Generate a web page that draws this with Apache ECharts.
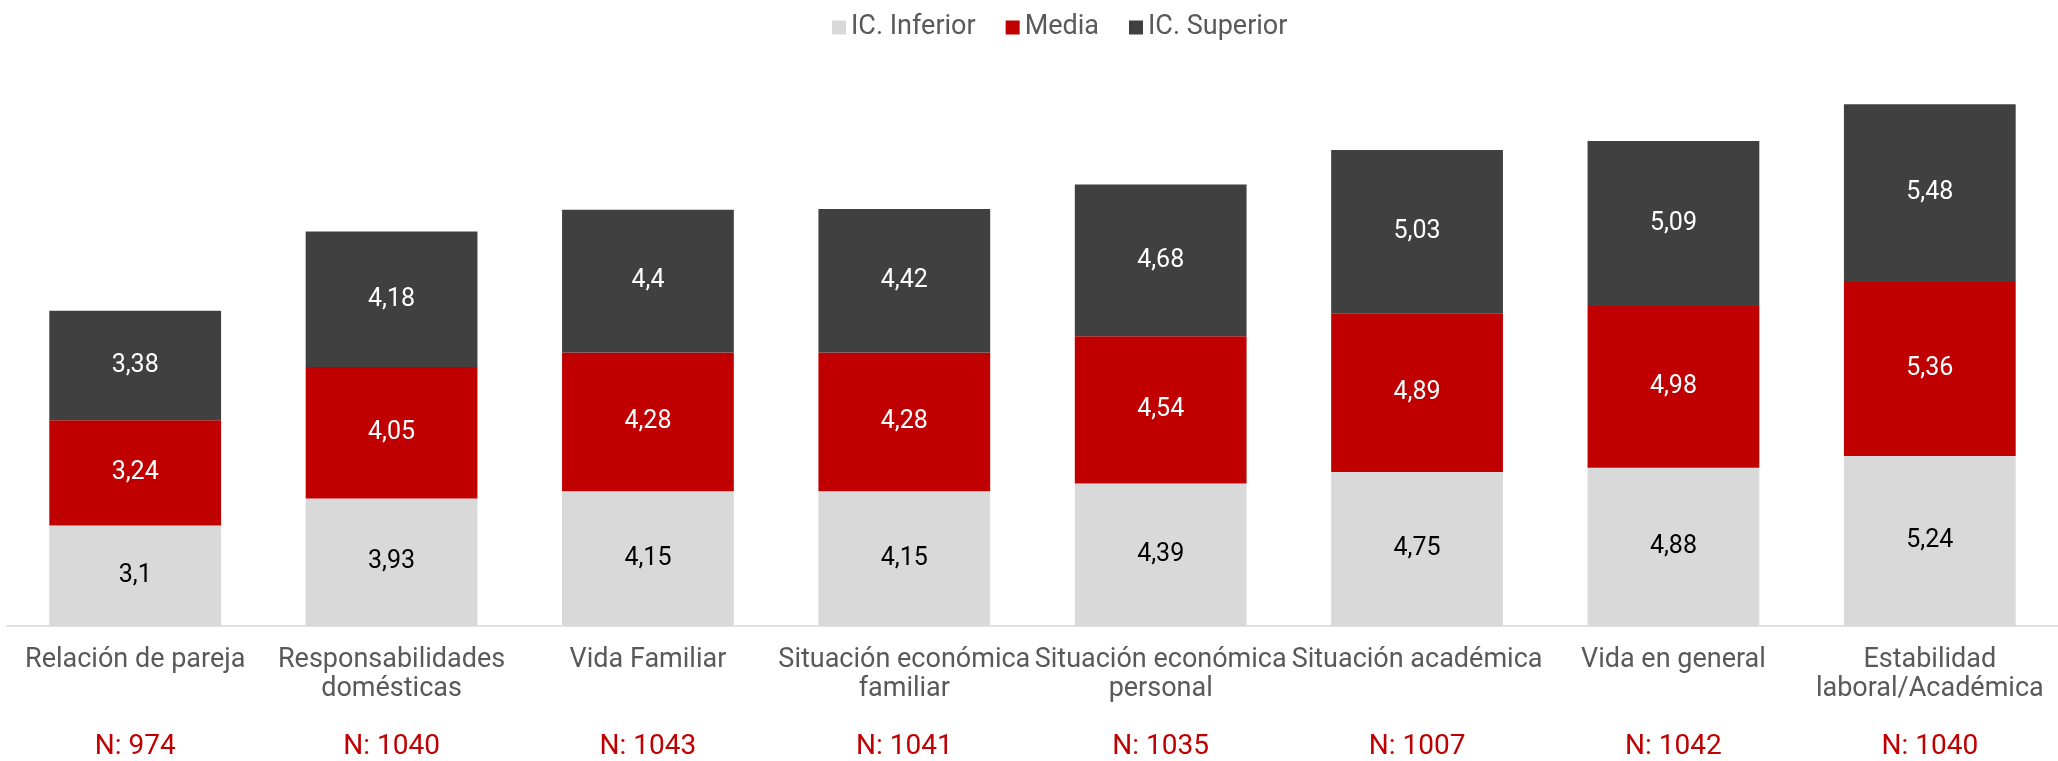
<!DOCTYPE html>
<html>
<head>
<meta charset="utf-8">
<script src="https://cdn.jsdelivr.net/npm/echarts@6/dist/echarts.min.js"></script>
<style>
  html, body { margin: 0; padding: 0; background: #ffffff; }
  #chart { width: 2058px; height: 761px; }
</style>
</head>
<body>
<div id="chart"></div>
<script>
const categories = [
  'Relación de pareja',
  'Responsabilidades\ndomésticas',
  'Vida Familiar',
  'Situación económica\nfamiliar',
  'Situación económica\npersonal',
  'Situación académica',
  'Vida en general',
  'Estabilidad\nlaboral/Académica'
];
const sampleSizes = [974, 1040, 1043, 1041, 1035, 1007, 1042, 1040];
const icInferior = [3.1, 3.93, 4.15, 4.15, 4.39, 4.75, 4.88, 5.24];
const media = [3.24, 4.05, 4.28, 4.28, 4.54, 4.89, 4.98, 5.36];
const icSuperior = [3.38, 4.18, 4.4, 4.42, 4.68, 5.03, 5.09, 5.48];
const seriesNames = ['IC. Inferior', 'Media', 'IC. Superior'];

const FONT = 'Roboto';
const fmt = p => String(p.value).replace('.', ',');

function barSeries(name, data, color, labelColor) {
  return {
    name: name,
    type: 'bar',
    stack: 'total',
    data: data,
    barCategoryGap: '33%',
    itemStyle: { color: color },
    label: {
      show: true,
      position: 'inside',
      formatter: fmt,
      color: labelColor,
      fontFamily: FONT,
      fontSize: 25
    },
    emphasis: { disabled: true }
  };
}

const chart = echarts.init(document.getElementById('chart'), null, { renderer: 'canvas' });
chart.setOption({
  animation: false,
  backgroundColor: '#ffffff',
  legend: {
    data: seriesNames,
    left: 827,
    top: 9,
    icon: 'rect',
    itemWidth: 14,
    itemHeight: 14,
    itemGap: 30,
    textStyle: { color: '#595959', fontFamily: FONT, fontSize: 27 }
  },
  grid: { left: 7, top: 42, width: 2067, bottom: 132.5 },
  xAxis: [
    {
      type: 'category',
      data: categories,
      axisLine: { show: true, lineStyle: { color: '#D9D9D9', width: 1.5 } },
      axisTick: { show: false },
      axisLabel: {
        interval: 0,
        margin: 20,
        color: '#595959',
        fontFamily: FONT,
        fontSize: 27,
        lineHeight: 29,
        align: 'center'
      }
    },
    {
      type: 'category',
      position: 'bottom',
      data: categories,
      axisLine: { show: false },
      axisTick: { show: false },
      axisLabel: {
        interval: 0,
        margin: 107,
        color: '#C00000',
        fontFamily: FONT,
        fontSize: 28,
        formatter: (v, i) => 'N: ' + sampleSizes[i]
      }
    }
  ],
  yAxis: {
    type: 'value',
    min: 0,
    max: 18,
    show: false,
    splitLine: { show: false }
  },
  series: [
    barSeries(seriesNames[0], icInferior, '#D9D9D9', '#000000'),
    barSeries(seriesNames[1], media, '#C00000', '#FFFFFF'),
    barSeries(seriesNames[2], icSuperior, '#404040', '#FFFFFF')
  ]
});
</script>
</body>
</html>
